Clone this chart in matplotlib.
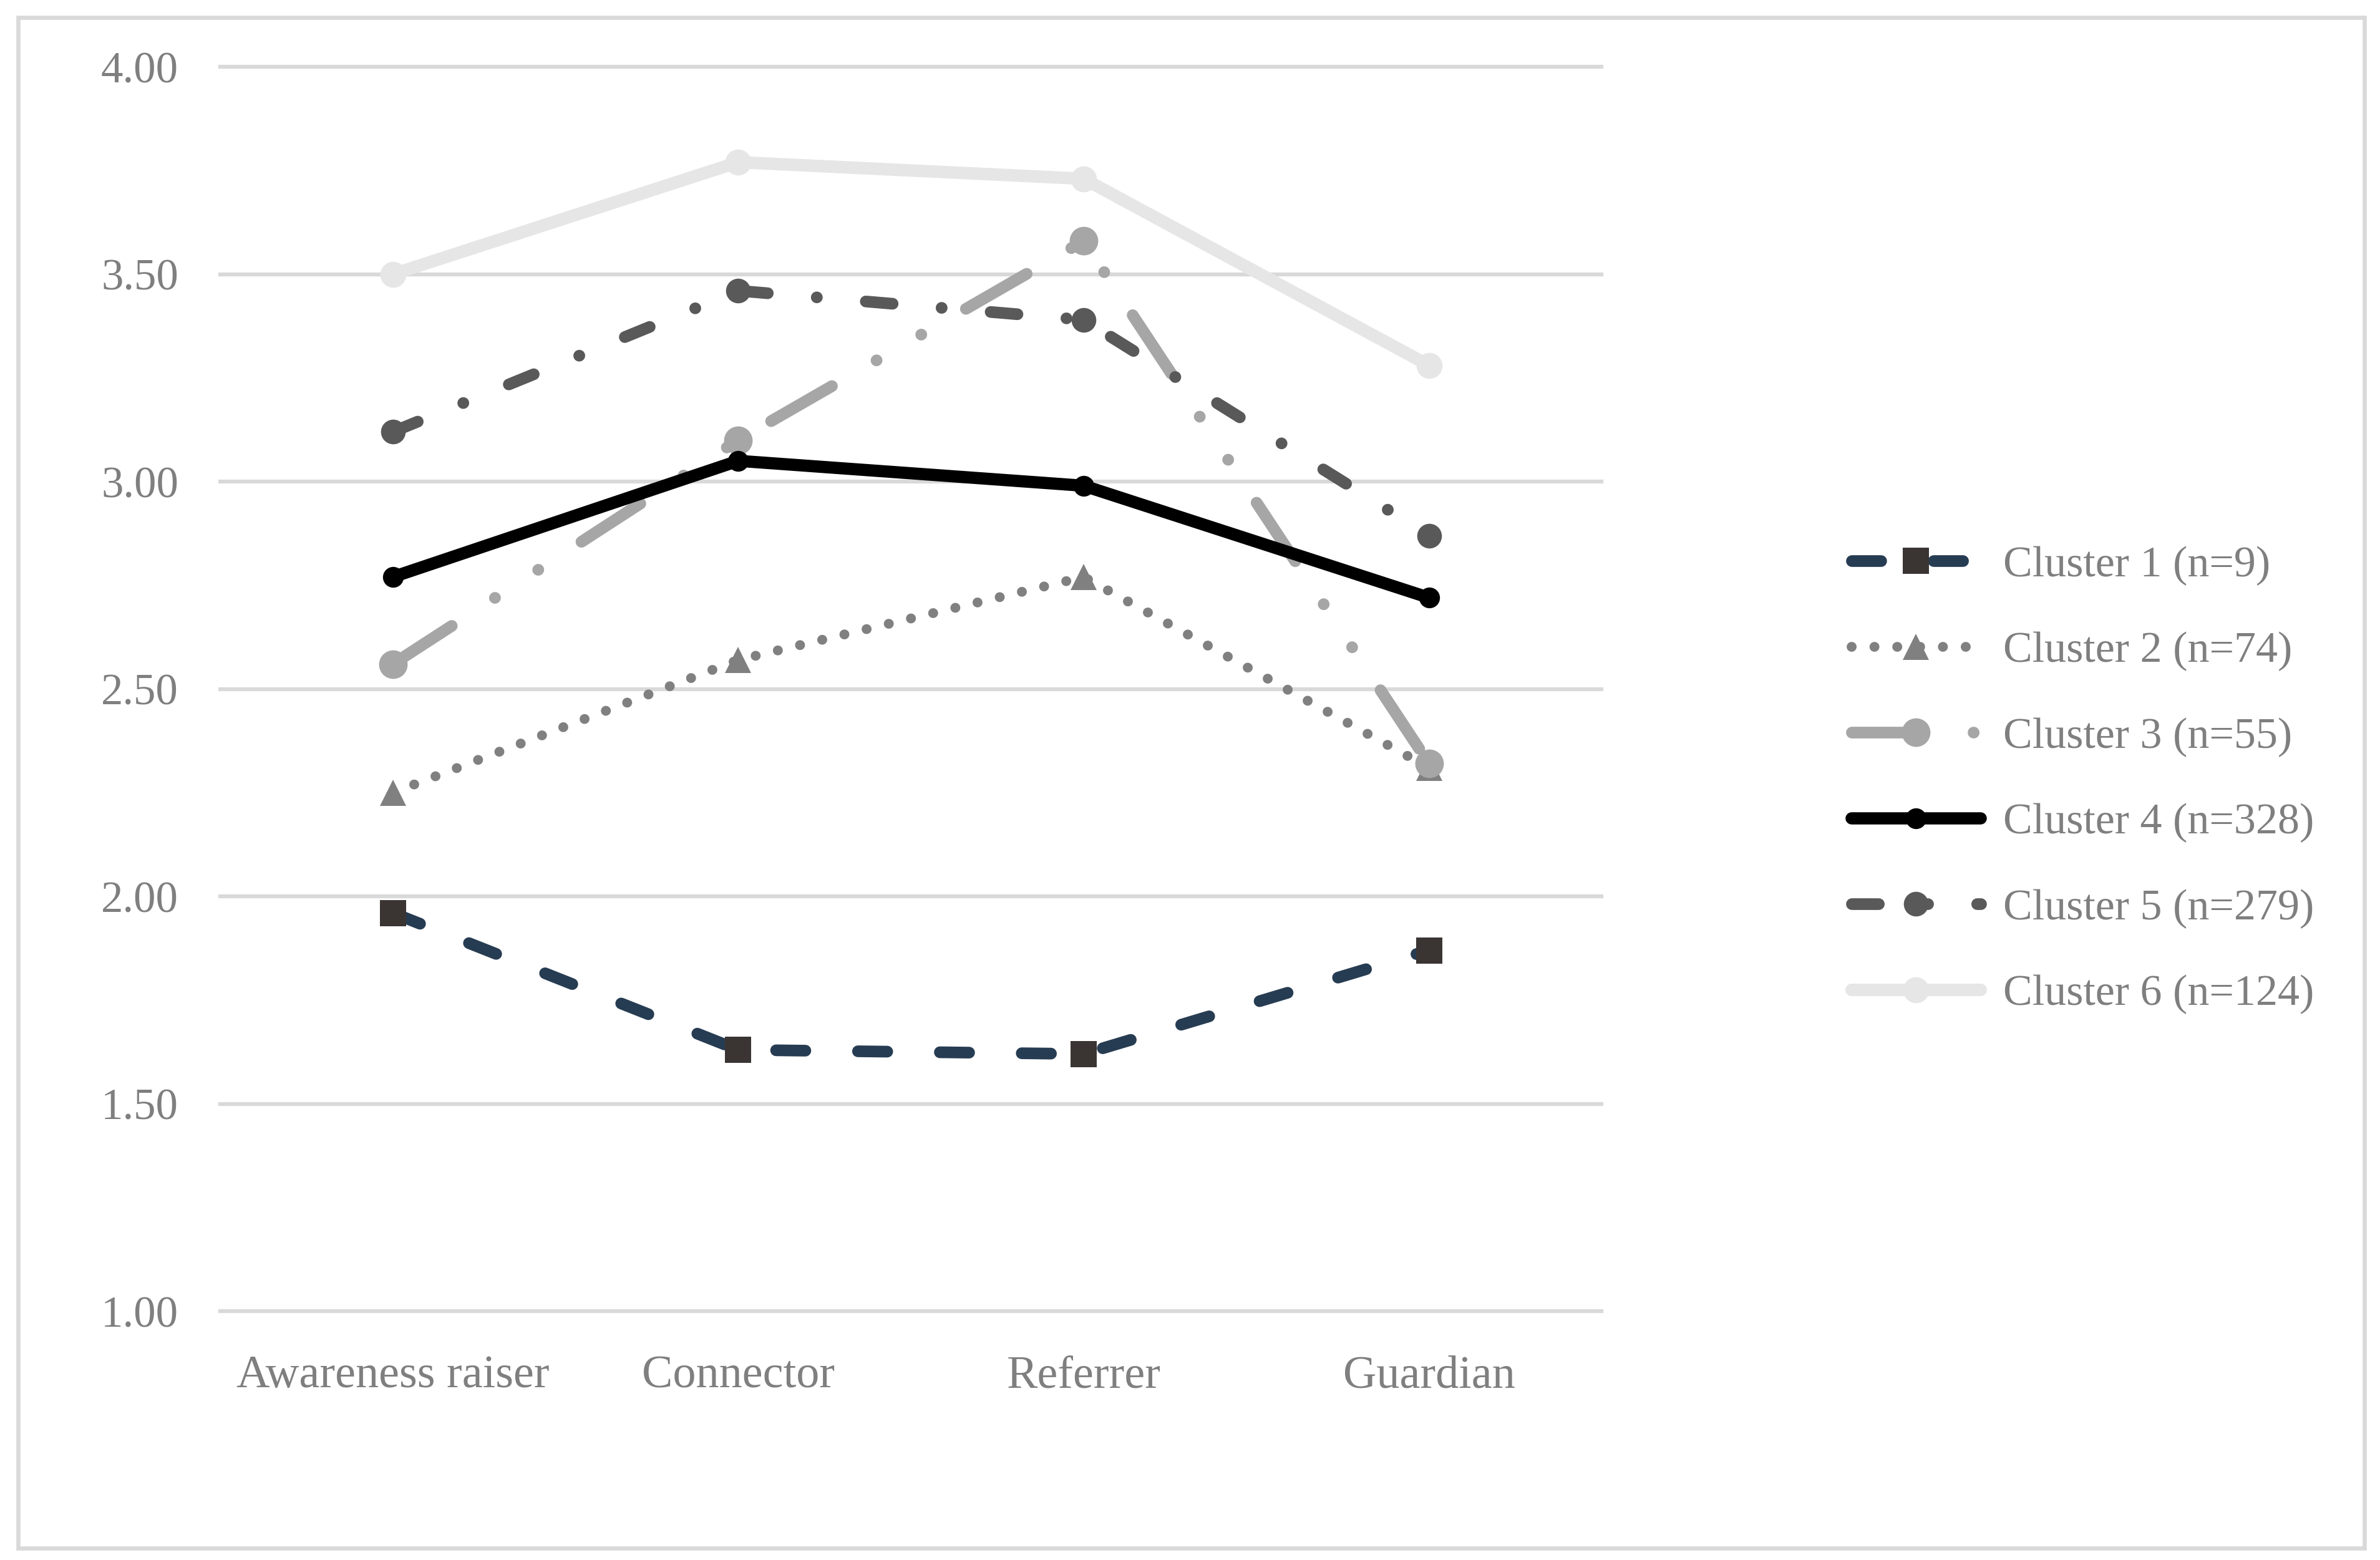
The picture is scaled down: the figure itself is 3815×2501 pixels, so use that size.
import numpy as np
import matplotlib.pyplot as plt
from matplotlib.patches import Rectangle
from matplotlib.ticker import FormatStrFormatter

plt.rcParams['font.family'] = ['Liberation Serif', 'DejaVu Serif']

categories = ['Awareness raiser', 'Connector', 'Referrer', 'Guardian']
labels = ['Cluster 1 (n=9)', 'Cluster 2 (n=74)', 'Cluster 3 (n=55)',
          'Cluster 4 (n=328)', 'Cluster 5 (n=279)', 'Cluster 6 (n=124)']
cluster1 = [1.96, 1.63, 1.62, 1.87]
cluster2 = [2.25, 2.57, 2.77, 2.31]
cluster3 = [2.56, 3.10, 3.58, 2.32]
cluster4 = [2.77, 3.05, 2.99, 2.72]
cluster5 = [3.12, 3.46, 3.39, 2.87]
cluster6 = [3.50, 3.77, 3.73, 3.28]
series = [cluster1, cluster2, cluster3, cluster4, cluster5, cluster6]

text_col = '#7f7f7f'
grid_col = '#d9d9d9'

# line look per cluster (Excel style)
styles = [
    dict(color='#263c52', lw=4.5, dashes=(2.5, 4.5), marker='s', ms=10, mfc='#3a3533', mec='#3a3533'),
    dict(color='#808080', lw=3.8, dashes=(0.01, 2.3), marker='^', ms=10, mfc='#808080', mec='#808080'),
    dict(color='#a6a6a6', lw=4.5, dashes=(6, 4.4, 0.01, 4.4, 0.01, 4.4), marker='o', ms=11, mfc='#a6a6a6', mec='#a6a6a6'),
    dict(color='#000000', lw=4.7, ls='-', marker='o', ms=8, mfc='#000000', mec='#000000'),
    dict(color='#595959', lw=4.5, dashes=(2.3, 4.2, 0.01, 4.2), marker='o', ms=9.5, mfc='#595959', mec='#595959'),
    dict(color='#e6e6e6', lw=4.8, ls='-', marker='o', ms=10, mfc='#e6e6e6', mec='#e6e6e6'),
]

fig = plt.figure(figsize=(3815 / 300, 2501 / 300), dpi=300)
ax = fig.add_axes([0.0925, 0.1595, 0.5805, 0.7977])

x = np.arange(len(categories))
for i, (vals, st) in enumerate(zip(series, styles)):
    ax.plot(x, vals, label=labels[i], dash_capstyle='round', solid_capstyle='round',
            dash_joinstyle='round', solid_joinstyle='round', mew=0, zorder=3 + i, **st)

ax.set_xlim(-0.5, 3.5)
ax.set_ylim(1, 4)
ax.set_yticks(np.arange(1, 4.01, 0.5))
ax.yaxis.set_major_formatter(FormatStrFormatter('%.2f'))
ax.set_xticks(x)
ax.set_xticklabels(categories)
ax.grid(axis='y', color=grid_col, lw=1.5)
ax.set_axisbelow(True)
for gl in ax.get_ygridlines():
    gl.set_clip_on(False)
for sp in ax.spines.values():
    sp.set_visible(False)
ax.tick_params(axis='both', length=0, labelsize=17, labelcolor=text_col)
ax.tick_params(axis='x', pad=17, labelsize=17.8)
ax.tick_params(axis='y', pad=16)

leg = ax.legend(loc='center left', bbox_to_anchor=(0.778, 0.5), bbox_transform=fig.transFigure,
                frameon=False, fontsize=16.8, handlelength=2.95, handletextpad=0.52,
                labelspacing=1.05, borderpad=0, borderaxespad=0, numpoints=1)
for t in leg.get_texts():
    t.set_color(text_col)

# outer chart border
fig.patches.append(Rectangle((0.0076, 0.0076), 0.9858, 0.9812, transform=fig.transFigure,
                             fill=False, edgecolor=grid_col, lw=1.6))

fig.savefig('out.png', dpi=300)
